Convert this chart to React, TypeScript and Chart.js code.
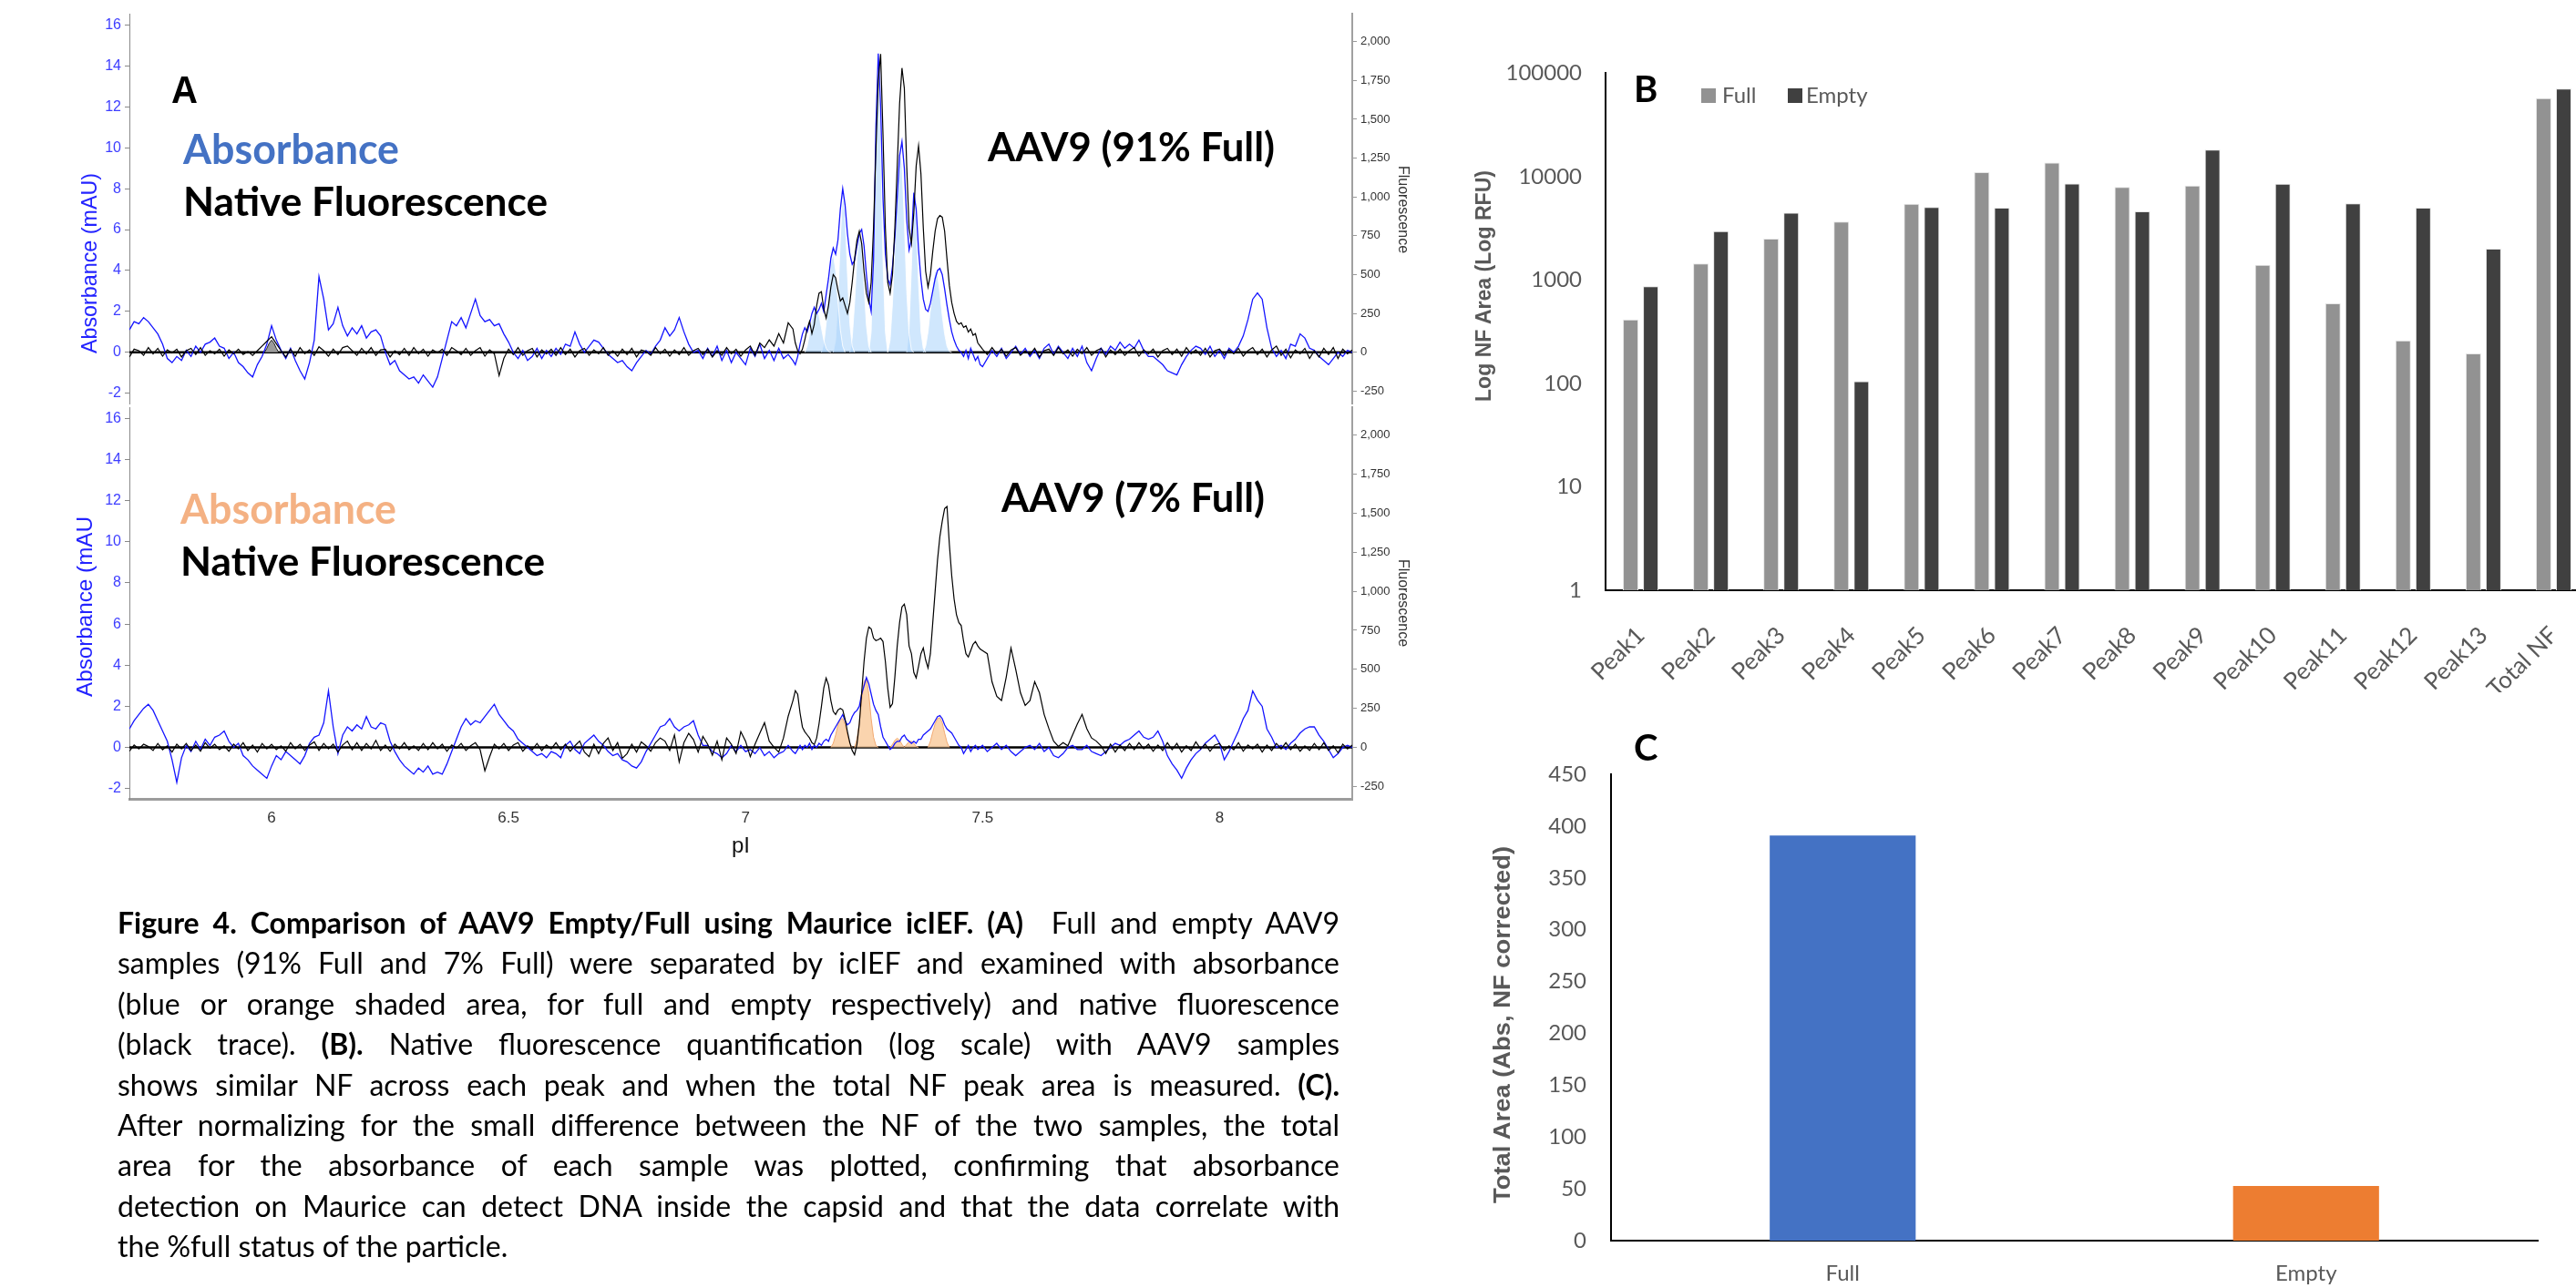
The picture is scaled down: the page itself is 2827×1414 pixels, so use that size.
import React, { useEffect, useRef } from "react";
import { Chart, registerables } from "chart.js";

Chart.register(...registerables);

// ---------------- Panel A: axis ticks ----------------
const X_TICKS = [6, 6.5, 7, 7.5, 8];
const ABS_TICKS = [-2, 0, 2, 4, 6, 8, 10, 12, 14, 16];
const NF_TICKS = [-250, 0, 250, 500, 750, 1000, 1250, 1500, 1750, 2000];

// Traces are sampled on three segments:
// A: pI 5.70..7.09 (step 0.01), B: pI 7.100..7.495 (step 0.005), C: pI 7.50..8.28 (step 0.01)

// ---- AAV9 91% Full, absorbance (mAU) ----
const absFullA = [
  1.1, 1.5, 1.4, 1.7, 1.5, 1.2, 0.9, 0.4, -0.3, -0.5,
  -0.2, -0.4, 0.1, -0.2, 0.3, 0.0, 0.4, 0.5, 0.7, 0.3,
  0.2, -0.3, 0.0, -0.5, -0.7, -1.0, -1.2, -0.6, -0.2, 0.4,
  1.3, 0.6, 0.1, -0.3, 0.2, -0.4, -0.9, -1.3, -0.5, 0.6,
  3.7, 2.6, 1.1, 1.4, 2.2, 1.3, 0.8, 1.2, 0.9, 1.3,
  0.7, 1.0, 1.1, 0.8, 0.0, -0.6, -0.4, -0.9, -1.1, -1.3,
  -1.2, -1.5, -1.1, -1.4, -1.7, -1.2, -0.3, 0.6, 1.5, 1.3,
  1.7, 1.2, 1.9, 2.6, 1.8, 1.5, 1.6, 1.3, 1.4, 0.9,
  0.5, 0.0, -0.3, 0.1, -0.4, -0.2, 0.2, -0.3, 0.1, -0.2,
  0.2, -0.1, 0.4, 0.3, 1.0, 0.4, 0.0, 0.3, 0.6, 0.5,
  0.2, -0.1, -0.3, -0.5, -0.4, -0.7, -0.9, -0.5, -0.2, 0.1,
  -0.1, 0.3, 0.6, 1.2, 0.8, 1.1, 1.7, 1.0, 0.4, 0.0,
  0.1, -0.3, 0.2, -0.2, 0.3, -0.4, 0.1, -0.5, 0.0, -0.3,
  -0.6, 0.2, -0.2, 0.4, -0.3, 0.1, -0.4, 0.2, -0.3, -0.1,
];
const absFullB = [
  -0.4, -0.6, -0.2, 0.4, 0.9, 1.2, 1.0, 1.4, 1.9, 2.2,
  1.9, 2.1, 2.4, 2.0, 2.8, 3.6, 4.6, 5.1, 4.8, 5.5,
  7.0, 8.0, 7.2, 5.8, 4.8, 4.3, 4.5, 5.2, 5.8, 6.0,
  5.2, 3.8, 2.6, 2.0, 4.5, 11.0, 14.6, 12.0, 7.5, 4.8,
  3.6, 3.3, 4.2, 5.6, 7.6, 9.6, 10.3, 9.0, 6.5, 5.0,
  5.5, 7.8, 7.0, 5.0, 3.6, 2.6, 2.1, 2.0, 2.4, 3.0,
  3.6, 4.0, 4.1, 3.8, 3.1, 2.3, 1.6, 1.0, 0.6, 0.3,
  0.1, 0.0, -0.2, 0.1, -0.3, 0.2, -0.1, -0.4, -0.2, -0.6,
];
const absFullC = [
  -0.7, -0.3, 0.1, -0.2, 0.2, -0.3, 0.0, 0.3, -0.1, 0.2,
  -0.2, 0.1, -0.3, 0.2, 0.4, -0.1, 0.3, 0.0, -0.3, 0.2,
  -0.2, 0.3, -0.5, -0.9, -0.3, 0.2, -0.1, 0.3, 0.1, 0.5,
  0.2, 0.4, 0.2, 0.6, 0.1, -0.2, -0.2, -0.4, -0.6, -0.9,
  -1.0, -1.1, -0.6, -0.2, 0.1, 0.3, 0.2, -0.1, 0.3, -0.2,
  0.1, -0.3, 0.2, 0.0, 0.3, 0.8, 1.6, 2.6, 2.9, 2.6,
  1.2, 0.2, -0.2, 0.1, -0.3, 0.4, 0.3, 0.9, 0.7, 0.2,
  0.1, -0.2, -0.4, -0.6, -0.3, 0.0, -0.2, 0.1, 0.0,
];

// ---- AAV9 91% Full, native fluorescence ----
const nfFullA = [
  -30, 20, 10, -20, 30, -10, 25, -25, 15, -5,
  20, -30, 10, 25, -15, 30, -20, 10, -10, 20,
  -25, 15, -10, 20, -15, 5, -20, 10, 40, 70,
  100, 55, 10, -30, 20, -25, 30, -10, 15, -20,
  35, 10, -25, 20, -15, 30, 40, 10, -20, 25,
  -10, 30, -20, 15, 20, -30, 10, -15, 25, -20,
  30, -10, 20, -25, 15, -5, 20, -20, 30, 10,
  -15, 25, -20, 10, 30, -25, 15, -10, -150, -40,
  20, -15, 30, -20, 10, 25, -30, 15, -10, 20,
  -20, 30, -15, 20, -30, 10, 25, -20, 15, -10,
  30, -20, 10, -25, 20, -15, 25, -30, 15, 5,
  -20, 30, -10, 20, -25, 15, -15, 30, -20, 10,
  25, -15, 20, -30, 10, -20, 30, -10, 20, -25,
  15, 40, -20, 60, 30, 80, 40, 120, 60, 190,
];
const nfFullB = [
  150, 60, 10, -10, 20, 80, 150, 200, 120, 180,
  300, 380, 390, 280, 220, 300, 420, 500, 480, 400,
  330, 350, 300, 250, 320, 450, 600, 720, 780, 700,
  520, 380, 320, 450, 800, 1300, 1750, 1920, 1400, 800,
  450, 380, 500, 800, 1200, 1600, 1830, 1700, 1200, 800,
  700, 900, 1200, 1330, 1150, 800, 520, 420, 500, 650,
  780, 860, 880, 870, 780, 600, 430, 320, 250, 200,
  180, 190, 160, 170, 130, 150, 110, 120, 60, 40,
];
const nfFullC = [
  20, -15, 30, -10, 20, -25, 15, 30, -20, 10,
  -15, 25, -30, 10, 20, -20, 30, -10, 15, -25,
  20, -10, 30, -20, 10, 25, -30, 15, -15, 20,
  -20, 10, 30, -25, 15, -10, 20, -30, 10, 25,
  -15, 20, -25, 30, -10, 15, -20, 25, -30, 10,
  20, -20, 15, -10, 25, -25, 10, 30, -15, 20,
  -30, 15, 40, -20, 20, -35, 15, -10, 25, -40,
  10, -30, 25, -15, 30, -40, 20, -10, 15,
];

// ---- AAV9 7% Full, absorbance (mAU) ----
const absEmptyA = [
  0.9, 1.3, 1.6, 1.9, 2.1, 1.8, 1.3, 0.8, 0.3, -0.6,
  -1.7, -0.5, 0.1, -0.2, 0.3, -0.1, 0.4, 0.1, 0.5, 0.6,
  0.8, 0.3, 0.0, 0.2, -0.4, -0.6, -0.9, -1.1, -1.3, -1.5,
  -0.9, -0.4, -0.6, -0.2, -0.4, -0.6, -0.8, -0.4, 0.2, 0.5,
  0.6, 1.2, 2.75, 1.0, -0.3, 0.6, 1.0, 0.8, 1.1, 0.9,
  1.5, 1.0, 0.9, 1.2, 1.1, 0.3, -0.2, -0.6, -0.9, -1.1,
  -1.3, -1.0, -1.2, -0.9, -1.3, -1.2, -1.3, -0.8, -0.2, 0.4,
  1.0, 1.4, 1.1, 1.3, 1.2, 1.5, 1.8, 2.1, 1.6, 1.3,
  1.0, 0.8, 0.4, 0.2, 0.0, -0.2, -0.4, -0.3, -0.5, -0.2,
  -0.3, -0.5, 0.1, 0.3, -0.1, -0.3, 0.2, 0.4, 0.6, 0.3,
  0.1, -0.2, -0.4, -0.3, -0.6, -0.7, -0.9, -1.0, -0.7, -0.2,
  0.2, 0.6, 1.0, 1.1, 1.4, 1.0, 0.8, 1.0, 1.1, 1.3,
  0.6, 0.1, 0.1, -0.2, -0.3, -0.5, -0.3, 0.1, -0.2, 0.1,
  -0.2, -0.1, -0.3, 0.0, -0.4, -0.2, -0.5, -0.3, -0.2, 0.1,
];
const absEmptyB = [
  -0.2, -0.3, -0.1, 0.1, -0.1, 0.1, 0.0, 0.2, -0.1, 0.1,
  0.0, 0.2, 0.1, 0.3, 0.4, 0.3, 0.6, 0.8, 1.0, 1.2,
  1.4, 1.6, 1.3, 1.1, 1.2, 1.5, 1.7, 1.8, 2.0, 2.6,
  3.0, 3.4, 3.1, 2.6, 2.1, 1.8, 1.6, 1.0, 0.5, 0.3,
  0.1, -0.1, 0.0, 0.2, 0.3, 0.3, 0.5, 0.6, 0.4, 0.3,
  0.2, 0.3, 0.2, 0.4, 0.4, 0.6, 0.7, 0.8, 0.9, 1.1,
  1.3, 1.5, 1.55, 1.4, 1.1, 0.9, 0.8, 0.7, 0.5, 0.3,
  0.1, 0.0, -0.3, -0.1, 0.1, -0.2, 0.0, 0.1, -0.1, 0.0,
];
const absEmptyC = [
  0.1, -0.2, 0.0, 0.2, -0.1, 0.1, -0.2, -0.4, -0.2, 0.0,
  0.1, -0.1, 0.2, -0.2, 0.0, -0.4, -0.5, -0.3, 0.0, 0.1,
  -0.1, -0.1, 0.1, -0.2, -0.3, -0.4, -0.2, 0.0, 0.2, 0.1,
  0.3, 0.4, 0.6, 0.8, 0.5, 0.4, 0.5, 0.8, 0.3, -0.4,
  -0.8, -1.1, -1.5, -1.0, -0.6, -0.3, -0.1, 0.2, 0.4, 0.6,
  0.2, -0.6, -0.2, 0.3, 0.8, 1.4, 1.8, 2.75, 2.3, 2.0,
  0.9, 0.5, 0.0, 0.1, -0.1, 0.2, 0.4, 0.7, 0.9, 1.0,
  1.0, 0.6, 0.3, -0.1, -0.5, -0.3, 0.0, 0.1, 0.0,
];

// ---- AAV9 7% Full, native fluorescence ----
const nfEmptyA = [
  -25, 15, -10, 20, 5, -20, 25, -15, 10, -30,
  20, -10, 25, -20, 15, -25, 30, -5, 20, -15,
  10, -25, 20, -10, 30, -20, 15, -30, 25, -10,
  20, -15, 10, -25, 30, -10, 20, -20, 15, 35,
  -20, 25, -10, 20, -30, 15, 40, -15, 30, -20,
  25, -10, 45, -20, 15, -25, 20, -10, 30, -15,
  10, -20, 25, -15, 30, -10, 20, -25, 15, -5,
  25, -20, 10, 30, -15, -150, -60, 20, -10, 25,
  -20, 15, 30, -25, 10, -15, 25, -20, 15, -10,
  30, -15, 20, -25, 10, 40, -30, -60, 20, -40,
  25, 60, -20, 30, -70, -40, 20, -30, 35, 10,
  -25, 30, 60, 40, -20, 80, -94, 30, 90, 50,
  -30, 70, 20, -50, 40, -80, 60, 20, -40, 100,
  40, -60, 20, 90, 158, 40, 0, -30, 60, 200,
];
const nfEmptyB = [
  300, 363, 340, 220, 130, 100, 80, 60, 30, 18,
  60, 150, 260, 380, 444, 400, 300, 230, 211, 240,
  250, 240, 180, 100, 30, -20, -47, 20, 150, 350,
  550, 700, 772, 760, 700, 684, 690, 700, 678, 550,
  380, 257, 280, 450, 650, 800, 900, 918, 850, 650,
  600, 480, 445, 520, 600, 637, 560, 509, 600, 800,
  1000, 1200, 1350, 1450, 1530, 1544, 1300, 1100, 950, 850,
  800, 780, 680, 600, 579, 620, 660, 678, 650, 630,
];
const nfEmptyC = [
  620, 600, 420, 327, 300, 450, 637, 500, 350, 269,
  300, 421, 350, 211, 120, 40, 6, 30, 10, 80,
  150, 211, 120, 60, 40, 10, -40, 20, -30, 15,
  -20, 25, -15, 30, -10, 20, -25, 15, -20, 30,
  -15, 25, -30, 10, -20, 35, -10, 20, -25, 15,
  25, -20, 10, -15, 30, -25, 15, -10, 20, -30,
  15, -20, 25, -10, 30, -15, 20, -25, 10, -20,
  25, -15, 30, -20, 10, -35, 20, -10, 15,
];

// ---- shaded absorbance peak lobes (each: start pI, values every 0.005 pI) ----
const fullLobeStarts = [7.125, 7.16, 7.185, 7.22, 7.26, 7.3, 7.34, 7.375];
const fullLobe1 = [0, 0.3, 0.9, 1.6, 2.0, 2.1, 1.8, 1.2, 0.6, 0.2, 0.05, 0];
const fullLobe2 = [0, 0.4, 1.4, 3.0, 4.4, 4.8, 4.0, 2.5, 1.1, 0.3, 0];
const fullLobe3 = [0, 0.6, 2.5, 5.6, 7.8, 6.8, 3.8, 1.4, 0.3, 0];
const fullLobe4 = [0, 0.7, 2.4, 4.6, 5.8, 5.2, 3.3, 1.3, 0.3, 0];
const fullLobe5 = [0, 1.0, 5.5, 12.0, 14.2, 10.5, 4.5, 1.0, 0];
const fullLobe6 = [0, 0.6, 2.4, 5.2, 8.2, 10.0, 9.2, 6.4, 3.0, 0.9, 0.1, 0];
const fullLobe7 = [0, 1.2, 4.2, 7.5, 6.6, 3.4, 1.0, 0.2, 0];
const fullLobe8 = [0, 0.3, 1.0, 2.1, 3.3, 4.0, 3.8, 2.9, 1.8, 0.9, 0.3, 0.05, 0];

const emptyLobeStarts = [7.18, 7.23, 7.305, 7.335, 7.385];
const emptyLobe1 = [0, 0.2, 0.6, 1.1, 1.38, 1.4, 1.1, 0.6, 0.2, 0];
const emptyLobe2 = [0, 0.4, 1.2, 2.3, 3.2, 3.35, 2.6, 1.4, 0.5, 0.1, 0];
const emptyLobe3 = [0, 0.15, 0.35, 0.45, 0.35, 0.15, 0];
const emptyLobe4 = [0, 0.15, 0.28, 0.3, 0.2, 0.05, 0];
const emptyLobe5 = [0, 0.3, 0.75, 1.15, 1.4, 1.45, 1.2, 0.7, 0.25, 0];

// small grey shaded peak near pI 6.0 (91% Full)
const greyPeakPI = [5.985, 5.99, 5.995, 6.0, 6.005, 6.01, 6.015];
const greyPeakAbs = [0, 0.2, 0.45, 0.6, 0.45, 0.2, 0];

// ---------------- Panel B ----------------
const peakLabels = [
  "Peak1", "Peak2", "Peak3", "Peak4", "Peak5", "Peak6", "Peak7",
  "Peak8", "Peak9", "Peak10", "Peak11", "Peak12", "Peak13", "Total NF",
];
const nfAreaFull = [416, 1445, 2510, 3670, 5450, 11050, 13680, 7950, 8180, 1406, 594, 261, 195, 57300];
const nfAreaEmpty = [871, 2965, 4490, 105, 5090, 5000, 8590, 4625, 18270, 8510, 5510, 5000, 2013, 71000];
const LOG_TICKS = [1, 10, 100, 1000, 10000, 100000];

// ---------------- Panel C ----------------
const sampleLabels = ["Full", "Empty"];
const totalAbsArea = [391, 52.7];
const AREA_TICKS = [0, 50, 100, 150, 200, 250, 300, 350, 400, 450];

// ---------------- helpers ----------------
function segPoints(start: number, step: number, arr: (number | null)[]) {
  return arr.map((v, i) => ({ x: +(start + i * step).toFixed(3), y: v }));
}
function tracePoints(a: number[], b: number[], c: number[]) {
  return [...segPoints(5.7, 0.01, a), ...segPoints(7.1, 0.005, b), ...segPoints(7.5, 0.01, c)];
}

const SANS = "'Liberation Sans', Arial, sans-serif";
const LATO = "Lato, 'Open Sans', sans-serif";

function panelAConfig(o: any) {
  const datasets: any[] = [
    {
      data: [{ x: 5.7, y: 0 }, { x: 8.28, y: 0 }],
      borderColor: "#000",
      borderWidth: 2.5,
      yAxisID: "y",
      order: 6,
    },
    {
      data: tracePoints(o.absA, o.absB, o.absC),
      borderColor: "#1414ff",
      borderWidth: 1.3,
      yAxisID: "y",
      order: 2,
    },
    {
      data: tracePoints(o.nfA, o.nfB, o.nfC),
      borderColor: "#000",
      borderWidth: 1.2,
      yAxisID: "y2",
      order: 1,
    },
  ];
  o.lobes.forEach((lobe: number[], k: number) => {
    datasets.push({
      data: segPoints(o.lobeStarts[k], 0.005, lobe),
      borderColor: o.fitLine,
      borderWidth: 1,
      backgroundColor: o.fitFill,
      fill: "origin",
      yAxisID: "y",
      order: 4,
    });
  });
  if (o.grey) {
    datasets.push({
      data: greyPeakPI.map((x, i) => ({ x, y: greyPeakAbs[i] })),
      borderColor: "#222",
      borderWidth: 1,
      backgroundColor: "#9b9b9b",
      fill: "origin",
      yAxisID: "y",
      order: 3,
    });
  }
  return {
    type: "line",
    data: { datasets },
    options: {
      responsive: false,
      animation: false,
      devicePixelRatio: 1,
      layout: { padding: { top: o.padTop, bottom: o.padBottom, left: 0, right: 0 } },
      elements: { point: { radius: 0 }, line: { tension: 0 } },
      plugins: { legend: { display: false }, tooltip: { enabled: false } },
      scales: {
        x: {
          type: "linear",
          min: 5.7,
          max: 8.28,
          display: o.showX,
          afterBuildTicks: (ax: any) => { ax.ticks = X_TICKS.map((v) => ({ value: v })); },
          afterFit: (s: any) => { s.height = o.showX ? 63 : 0; },
          grid: { display: false, drawTicks: false },
          border: { display: true, color: "#9c9c9c", width: 3 },
          ticks: { padding: 11, color: "#333", font: { family: SANS, size: 17 }, callback: (v: any) => String(v) },
        },
        y: {
          position: "left",
          min: -2.5,
          max: 16.55,
          afterBuildTicks: (ax: any) => { ax.ticks = ABS_TICKS.map((v) => ({ value: v })); },
          afterFit: (s: any) => { s.width = 142; },
          grid: { drawOnChartArea: false, drawTicks: true, tickLength: 5, color: "#888" },
          border: { display: true, color: "#8a8a8a", width: 1 },
          ticks: { padding: 4, color: "#3d3dff", font: { family: SANS, size: 16 }, callback: (v: any) => String(v) },
        },
        y2: {
          position: "right",
          min: -330,
          max: 2180,
          afterBuildTicks: (ax: any) => { ax.ticks = NF_TICKS.map((v) => ({ value: v })); },
          afterFit: (s: any) => { s.width = 86; },
          grid: { drawOnChartArea: false, drawTicks: true, tickLength: 5, color: "#999" },
          border: { display: true, color: "#a0a0a0", width: 2 },
          ticks: {
            padding: 4,
            color: "#333",
            font: { family: SANS, size: 13 },
            callback: (v: any) => Number(v).toLocaleString("en-US"),
          },
        },
      },
    },
  };
}

function panelBConfig() {
  return {
    type: "bar",
    data: {
      labels: peakLabels,
      datasets: [
        { label: "Full", data: nfAreaFull, backgroundColor: "#929292", borderColor: "#e6e6e6", borderWidth: 1, barPercentage: 0.77, categoryPercentage: 0.572 },
        { label: "Empty", data: nfAreaEmpty, backgroundColor: "#404040", borderColor: "#e6e6e6", borderWidth: 1, barPercentage: 0.77, categoryPercentage: 0.572 },
      ],
    },
    options: {
      responsive: false,
      animation: false,
      devicePixelRatio: 1,
      layout: { padding: { top: 32, right: 39, left: 0, bottom: 0 } },
      plugins: { legend: { display: false }, tooltip: { enabled: false } },
      scales: {
        x: {
          afterFit: (s: any) => { s.height = 112; },
          grid: { display: false, drawTicks: false },
          border: { display: true, color: "#000", width: 2 },
          ticks: { autoSkip: false, maxRotation: 45, minRotation: 45, padding: 34, color: "#595959", font: { family: LATO, size: 26 } },
        },
        y: {
          type: "logarithmic",
          min: 1,
          max: 100000,
          afterBuildTicks: (ax: any) => { ax.ticks = LOG_TICKS.map((v) => ({ value: v })); },
          afterFit: (s: any) => { s.width = 182; },
          grid: { display: false, drawTicks: false },
          border: { display: true, color: "#000", width: 2 },
          ticks: { padding: 26, color: "#595959", font: { family: LATO, size: 24 }, callback: (v: any) => String(v) },
        },
      },
    },
  };
}

function panelCConfig() {
  return {
    type: "bar",
    data: {
      labels: sampleLabels,
      datasets: [
        { data: totalAbsArea, backgroundColor: ["#4472c4", "#ed7d31"], barPercentage: 0.315, categoryPercentage: 1 },
      ],
    },
    options: {
      responsive: false,
      animation: false,
      devicePixelRatio: 1,
      layout: { padding: { top: 50, right: 42, left: 0, bottom: 0 } },
      plugins: { legend: { display: false }, tooltip: { enabled: false } },
      scales: {
        x: {
          afterFit: (s: any) => { s.height = 52; },
          grid: { display: false, drawTicks: false },
          border: { display: true, color: "#000", width: 2 },
          ticks: { padding: 22, color: "#595959", font: { family: LATO, size: 24 } },
        },
        y: {
          min: 0,
          max: 450,
          afterBuildTicks: (ax: any) => { ax.ticks = AREA_TICKS.map((v) => ({ value: v })); },
          afterFit: (s: any) => { s.width = 188; },
          grid: { display: false, drawTicks: false },
          border: { display: true, color: "#000", width: 2 },
          ticks: { padding: 27, color: "#595959", font: { family: LATO, size: 24 }, callback: (v: any) => String(v) },
        },
      },
    },
  };
}

const captionLines: React.ReactNode[] = [
  <><b>Figure 4. Comparison of AAV9 Empty/Full using Maurice icIEF. (A)</b>&nbsp; Full and empty AAV9</>,
  <>samples (91% Full and 7% Full) were separated by icIEF and examined with absorbance</>,
  <>(blue or orange shaded area, for full and empty respectively) and native fluorescence</>,
  <>(black trace). <b>(B).</b> Native fluorescence quantification (log scale) with AAV9 samples</>,
  <>shows similar NF across each peak and when the total NF peak area is measured. <b>(C).</b></>,
  <>After normalizing for the small difference between the NF of the two samples, the total</>,
  <>area for the absorbance of each sample was plotted, confirming that absorbance</>,
  <>detection on Maurice can detect DNA inside the capsid and that the data correlate with</>,
  <>the %full status of the particle.</>,
];

export default function App() {
  const aTop = useRef<HTMLCanvasElement>(null);
  const aBot = useRef<HTMLCanvasElement>(null);
  const bRef = useRef<HTMLCanvasElement>(null);
  const cRef = useRef<HTMLCanvasElement>(null);

  useEffect(() => {
    Chart.defaults.font.family = SANS;
    const charts: Chart[] = [];
    charts.push(
      new Chart(aTop.current as any, panelAConfig({
        absA: absFullA, absB: absFullB, absC: absFullC,
        nfA: nfFullA, nfB: nfFullB, nfC: nfFullC,
        lobeStarts: fullLobeStarts,
        lobes: [fullLobe1, fullLobe2, fullLobe3, fullLobe4, fullLobe5, fullLobe6, fullLobe7, fullLobe8],
        fitFill: "rgba(170,212,252,0.55)", fitLine: "rgba(255,255,255,0.85)",
        grey: true, showX: false, padTop: 15, padBottom: 27,
      }) as any)
    );
    charts.push(
      new Chart(aBot.current as any, panelAConfig({
        absA: absEmptyA, absB: absEmptyB, absC: absEmptyC,
        nfA: nfEmptyA, nfB: nfEmptyB, nfC: nfEmptyC,
        lobeStarts: emptyLobeStarts,
        lobes: [emptyLobe1, emptyLobe2, emptyLobe3, emptyLobe4, emptyLobe5],
        fitFill: "rgba(249,204,160,0.85)", fitLine: "#f2a970",
        grey: false, showX: true, padTop: 27, padBottom: 0,
      }) as any)
    );
    charts.push(new Chart(bRef.current as any, panelBConfig() as any));
    charts.push(new Chart(cRef.current as any, panelCConfig() as any));
    return () => charts.forEach((c) => c.destroy());
  }, []);

  const abs = (l: number, t: number): React.CSSProperties => ({ position: "absolute", left: l, top: t });

  return (
    <div style={{ position: "fixed", left: 0, top: 0, width: 2827, height: 1414, overflow: "hidden", background: "#fff" }}>
      <canvas ref={aBot} width={1570} height={520} style={{ ...abs(0, 420), width: 1570, height: 520 }} />
      <canvas ref={aTop} width={1570} height={470} style={{ ...abs(0, 0), width: 1570, height: 470 }} />
      <canvas ref={bRef} width={1300} height={720} style={{ ...abs(1580, 40), width: 1300, height: 720 }} />
      <canvas ref={cRef} width={1247} height={614} style={{ ...abs(1580, 800), width: 1247, height: 614 }} />

      <svg width={2827} height={1414} style={{ ...abs(0, 0), pointerEvents: "none" }}>
        {/* Panel A annotations */}
        <text x={188} y={113} fontFamily={SANS} fontWeight={700} fontSize={43} textLength={29} lengthAdjust="spacingAndGlyphs">A</text>
        <text x={201} y={180} fontFamily={LATO} fontWeight={700} fontSize={45} fill="#4472c4" textLength={237} lengthAdjust="spacingAndGlyphs">Absorbance</text>
        <text x={201} y={237} fontFamily={LATO} fontWeight={700} fontSize={43} fill="#000" textLength={400} lengthAdjust="spacingAndGlyphs">Native Fluorescence</text>
        <text x={1084} y={177} fontFamily={LATO} fontWeight={700} fontSize={43} fill="#000" textLength={315} lengthAdjust="spacingAndGlyphs">AAV9 (91% Full)</text>

        <text x={198} y={575} fontFamily={LATO} fontWeight={700} fontSize={45} fill="#f4b183" textLength={237} lengthAdjust="spacingAndGlyphs">Absorbance</text>
        <text x={198} y={632} fontFamily={LATO} fontWeight={700} fontSize={43} fill="#000" textLength={400} lengthAdjust="spacingAndGlyphs">Native Fluorescence</text>
        <text x={1099} y={562} fontFamily={LATO} fontWeight={700} fontSize={43} fill="#000" textLength={289} lengthAdjust="spacingAndGlyphs">AAV9 (7% Full)</text>

        <text transform="translate(97,289) rotate(-90)" textAnchor="middle" dominantBaseline="central" fontFamily={SANS} fontSize={24} fill="#2323ff" textLength={198} lengthAdjust="spacingAndGlyphs">Absorbance (mAU)</text>
        <text transform="translate(92,666) rotate(-90)" textAnchor="middle" dominantBaseline="central" fontFamily={SANS} fontSize={24} fill="#2323ff" textLength={198} lengthAdjust="spacingAndGlyphs">Absorbance (mAU</text>
        <text transform="translate(1540,230) rotate(90)" textAnchor="middle" dominantBaseline="central" fontFamily={SANS} fontSize={16} fill="#333">Fluorescence</text>
        <text transform="translate(1540,662) rotate(90)" textAnchor="middle" dominantBaseline="central" fontFamily={SANS} fontSize={16} fill="#333">Fluorescence</text>
        <text x={813} y={936} textAnchor="middle" fontFamily={SANS} fontSize={24} fill="#111">pI</text>

        {/* Panel B annotations */}
        <text x={1793} y={112} fontFamily={LATO} fontWeight={700} fontSize={40} fill="#000">B</text>
        <rect x={1867} y={97} width={16} height={16} fill="#929292" />
        <text x={1890} y={113} fontFamily={LATO} fontSize={24} fill="#595959">Full</text>
        <rect x={1962} y={97} width={16} height={16} fill="#404040" />
        <text x={1982} y={113} fontFamily={LATO} fontSize={24} fill="#595959">Empty</text>
        <text transform="translate(1628,314) rotate(-90)" textAnchor="middle" dominantBaseline="central" fontFamily={SANS} fontWeight={700} fontSize={23} fill="#595959" textLength={254} lengthAdjust="spacingAndGlyphs">Log NF Area (Log RFU)</text>

        {/* Panel C annotations */}
        <text x={1793} y={835} fontFamily={LATO} fontWeight={700} fontSize={40} fill="#000">C</text>
        <text transform="translate(1648,1125) rotate(-90)" textAnchor="middle" dominantBaseline="central" fontFamily={SANS} fontWeight={700} fontSize={26} fill="#595959" textLength={392} lengthAdjust="spacingAndGlyphs">Total Area (Abs, NF corrected)</text>
      </svg>

      <div style={{ ...abs(129, 991), width: 1341, fontFamily: LATO, fontSize: 32, color: "#000" }}>
        {captionLines.map((line, i) => (
          <div
            key={i}
            style={{
              height: 44.4,
              lineHeight: "44.4px",
              whiteSpace: "nowrap",
              textAlign: i === captionLines.length - 1 ? "left" : "justify",
              textAlignLast: i === captionLines.length - 1 ? "left" : "justify",
            } as React.CSSProperties}
          >
            {line}
          </div>
        ))}
      </div>
    </div>
  );
}
